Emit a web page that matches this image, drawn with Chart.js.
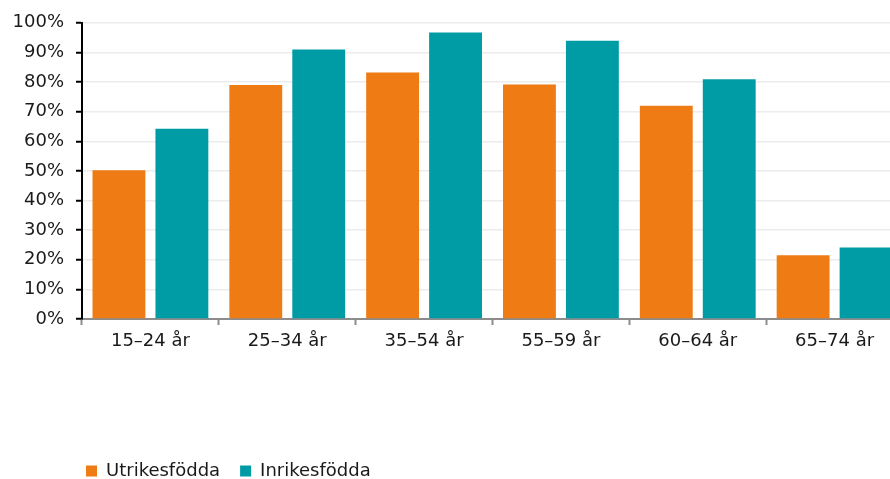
<!DOCTYPE html>
<html>
<head>
<meta charset="utf-8">
<script src="https://cdn.jsdelivr.net/npm/chart.js@4/dist/chart.umd.min.js"></script>
<style>
  html, body { margin: 0; padding: 0; background: #ffffff; overflow: hidden; }
  #wrap { position: relative; width: 903px; height: 479px; }
</style>
</head>
<body>
<div id="wrap"><canvas id="c"></canvas></div>
<script>
const categories = ["15–24 år", "25–34 år", "35–54 år", "55–59 år", "60–64 år", "65–74 år"];
const utrikesfodda = [50.2, 79.0, 83.2, 79.2, 72.0, 21.5];
const inrikesfodda = [64.2, 91.0, 96.7, 93.9, 80.9, 24.1];
const seriesNames = ["Utrikesfödda", "Inrikesfödda"];
const yTicks = [0, 10, 20, 30, 40, 50, 60, 70, 80, 90, 100];

const FONT = "'DejaVu Sans', Verdana, sans-serif";
Chart.defaults.font.family = FONT;
Chart.defaults.font.size = 18;
Chart.defaults.color = "#1a1a1a";

const legendPlace = {
  id: "legendPlace",
  beforeDraw(chart) {
    const lg = chart.legend;
    if (!lg) return;
    lg.left = 66;
    lg.top = 442;
  }
};

new Chart(document.getElementById("c"), {
  type: "bar",
  data: {
    labels: categories,
    datasets: [
      { label: seriesNames[0], data: utrikesfodda, backgroundColor: "#ee7b13", borderWidth: 0 },
      { label: seriesNames[1], data: inrikesfodda, backgroundColor: "#009ca6", borderWidth: 0 }
    ]
  },
  options: {
    responsive: true,
    maintainAspectRatio: false,
    animation: false,
    categoryPercentage: 0.92,
    barPercentage: 0.84,
    layout: { padding: { top: 22, right: 0, bottom: 0, left: 0 } },
    plugins: {
      tooltip: { enabled: false },
      legend: {
        position: "bottom",
        align: "start",
        labels: { boxWidth: 11, boxHeight: 11, padding: 20, font: { size: 18 }, color: "#1a1a1a" }
      }
    },
    scales: {
      x: {
        offset: true,
        grid: { offset: true, drawOnChartArea: false, drawTicks: true, tickLength: 6, color: "#8c8c8c", tickWidth: 2 },
        border: { display: true, color: "#8c8c8c", width: 2 },
        ticks: { padding: 6, font: { size: 18 }, color: "#1a1a1a", maxRotation: 0 },
        afterFit(scale) { scale.height = 479 - 319 - (scale.chart.legend ? scale.chart.legend.height : 0); }
      },
      y: {
        min: 0, max: 100,
        afterBuildTicks(scale) { scale.ticks = yTicks.map(v => ({ value: v })); },
        grid: { color: "#ececec", lineWidth: 1.5, tickLength: 6, tickColor: "#000000", tickWidth: 2 },
        border: { display: true, color: "#000000", width: 2 },
        ticks: { padding: 12, font: { size: 18 }, color: "#1a1a1a", callback: v => v + "%" },
        afterFit(scale) { scale.width = 82; }
      }
    }
  },
  plugins: [legendPlace]
});
</script>
</body>
</html>
